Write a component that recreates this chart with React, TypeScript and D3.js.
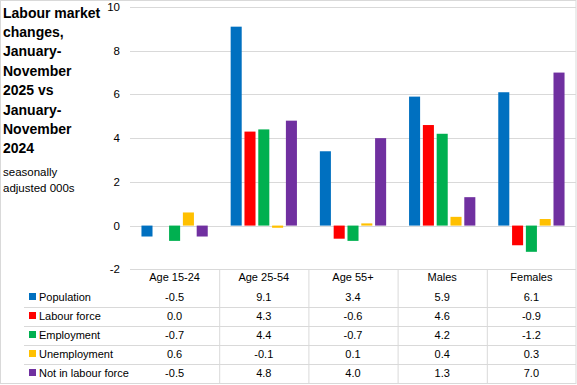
import React from "react";
import * as d3 from "d3";

const categories = ["Age 15-24", "Age 25-54", "Age 55+", "Males", "Females"];
const seriesNames = ["Population", "Labour force", "Employment", "Unemployment", "Not in labour force"];
const population = [-0.5, 9.1, 3.4, 5.9, 6.1];
const labourForce = [0.0, 4.3, -0.6, 4.6, -0.9];
const employment = [-0.7, 4.4, -0.7, 4.2, -1.2];
const unemployment = [0.6, -0.1, 0.1, 0.4, 0.3];
const notInLabourForce = [-0.5, 4.8, 4.0, 1.3, 7.0];
const seriesColors = ["#0070C0", "#FF0000", "#00B050", "#FFC000", "#7030A0"];
const yTicks = [-2, 0, 2, 4, 6, 8, 10];
const titleLines = ["Labour market", "changes,", "January-", "November", "2025 vs", "January-", "November", "2024"];
const subtitleLines = ["seasonally", "adjusted 000s"];

const W = 577;
const H = 385;
const FONT = "'Liberation Sans', Arial, sans-serif";

export default function App() {
  const series = [population, labourForce, employment, unemployment, notInLabourForce];
  const x0 = d3.scaleBand<string>().domain(categories).range([130, 576]).padding(0);
  const x1 = d3
    .scaleBand<string>()
    .domain(seriesNames)
    .range([0, x0.bandwidth()])
    .paddingInner(0.2)
    .paddingOuter(0.83);
  const y = d3.scaleLinear().domain([-2, 10]).range([269.3, 7]);

  const rowY = (i: number) => 297 + i * 19;
  const fmt = (v: number) => d3.format(".1f")(v).replace("\u2212", "-");
  const grid = "#d9d9d9";

  return (
    <svg
      width={W}
      height={H}
      style={{ position: "absolute", left: 0, top: 0, background: "#fff" }}
      fontFamily={FONT}
    >
      <rect x={0.5} y={0.5} width={575.5} height={383} fill="#fff" stroke={grid} />
      {titleLines.map((t, i) => (
        <text key={t + i} x={3} y={17.5 + i * 19.4} fontSize={14} fontWeight="bold" fill="#000">
          {t}
        </text>
      ))}
      {subtitleLines.map((t, i) => (
        <text key={t} x={3} y={176 + i * 16} fontSize={11.5} fill="#000">
          {t}
        </text>
      ))}
      {yTicks.map((t) => (
        <g key={t}>
          <line x1={130} x2={576} y1={Math.round(y(t)) + 0.5} y2={Math.round(y(t)) + 0.5} stroke={grid} />
          <text x={120} y={y(t) + 4} fontSize={11.5} textAnchor="end" fill="#000">
            {fmt(t).replace(".0", "")}
          </text>
        </g>
      ))}
      {categories.map((c, ci) => (
        <g key={c} transform={`translate(${x0(c)},0)`}>
          {series.map((vals, si) => {
            const v = vals[ci];
            const y0 = y(0);
            const yv = y(v);
            return (
              <rect
                key={si}
                x={x1(seriesNames[si])}
                y={Math.min(y0, yv)}
                width={x1.bandwidth()}
                height={Math.abs(yv - y0)}
                fill={seriesColors[si]}
              />
            );
          })}
        </g>
      ))}
      {categories.map((c) => (
        <text
          key={c}
          x={(x0(c) as number) + x0.bandwidth() / 2}
          y={281}
          fontSize={11}
          textAnchor="middle"
          fill="#000"
        >
          {c}
        </text>
      ))}
      {categories.slice(1).map((c) => (
        <line key={c} x1={(x0(c) as number) + 0.5} x2={(x0(c) as number) + 0.5} y1={269} y2={383} stroke={grid} />
      ))}
      {seriesNames.map((s, si) => (
        <line key={s} x1={24} x2={576} y1={rowY(si) + 10.5} y2={rowY(si) + 10.5} stroke={grid} />
      ))}
      {seriesNames.map((s, si) => (
        <g key={s}>
          <rect x={29} y={rowY(si) - 4} width={7} height={7} fill={seriesColors[si]} />
          <text x={39} y={rowY(si) + 4} fontSize={11} fill="#000">
            {s}
          </text>
          {categories.map((c, ci) => (
            <text
              key={c}
              x={(x0(c) as number) + x0.bandwidth() / 2}
              y={rowY(si) + 4}
              fontSize={11}
              textAnchor="middle"
              fill="#000"
            >
              {fmt(series[si][ci])}
            </text>
          ))}
        </g>
      ))}
    </svg>
  );
}
